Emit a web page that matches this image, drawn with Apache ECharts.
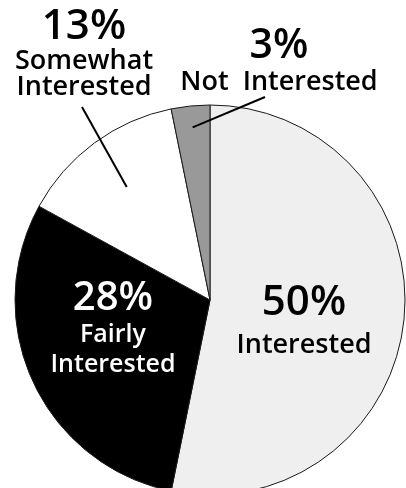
<!DOCTYPE html>
<html>
<head>
<meta charset="utf-8">
<style>
  html, body { margin: 0; padding: 0; background: #ffffff; }
  #chart { width: 406px; height: 488px; }
</style>
<script src="https://cdn.jsdelivr.net/npm/echarts@6/dist/echarts.min.js"></script>
</head>
<body>
<div id="chart"></div>
<script>
// Survey shares, clockwise from 12 o'clock
const categories = ['Interested', 'Fairly Interested', 'Somewhat Interested', 'Not Interested'];
const values = [50, 28, 13, 3];
// Words printed under each percentage, one entry per line
const labelWords = [
  ['Interested'],
  ['Fairly', 'Interested'],
  ['Somewhat', 'Interested'],
  ['Not  Interested']
];

const sliceColors = ['#efefef', '#000000', '#ffffff', '#999999'];
const textColors = ['#000000', '#ffffff', '#000000', '#000000'];

const CX = 210, CY = 300, R = 195;
const FONT = '"Open Sans", "DejaVu Sans", sans-serif';

// label block anchors (text centre) and leader-line settings
const labelAnchor = [
  { x: 304, y: 324 },
  { x: 113, y: 329 },
  { x: 84, y: 53 },
  { x: 279, y: 61 }
];
const leader = [
  null,
  null,
  { inner: 0.72, outer: [82, 107] },
  { inner: 0.89, outer: [265, 97] }
];
const numberSize = [42, 40, 42, 41];
const wordStyle = [
  { fontSize: 27, letterSpacing: 1.5, lineHeight: 42 },
  { fontSize: 25, letterSpacing: 1.2, lineHeight: 30 },
  { fontSize: 27, letterSpacing: -0.3, lineHeight: 26 },
  { fontSize: 27, letterSpacing: 0.4, lineHeight: 30 }
];

const total = values.reduce((a, b) => a + b, 0);
function midAngle(i) {
  let before = 0;
  for (let k = 0; k < i; k++) before += values[k];
  return (before + values[i] / 2) / total * Math.PI * 2;
}
function polar(angle, r) {
  return [CX + r * Math.sin(angle), CY - r * Math.cos(angle)];
}

const seriesData = categories.map((name, i) => {
  const words = labelWords[i].map(w => '{w|' + w + '}').join('\n');
  const ws = wordStyle[i];
  return {
    name: name,
    value: values[i],
    itemStyle: { color: sliceColors[i] },
    label: {
      position: 'inside',
      formatter: '{n|{c}%}\n' + words,
      rich: {
        n: { fontFamily: FONT, fontSize: numberSize[i], fontWeight: 600, lineHeight: 42, color: textColors[i], align: 'center' },
        w: { fontFamily: FONT, fontSize: ws.fontSize, fontWeight: 600, letterSpacing: ws.letterSpacing,
             lineHeight: ws.lineHeight, color: textColors[i], align: 'center' }
      }
    }
  };
});

// leader lines from inside the small slices out towards their labels
const leaderGraphics = [];
leader.forEach((l, i) => {
  if (!l) return;
  const p = polar(midAngle(i), R * l.inner);
  leaderGraphics.push({
    type: 'line',
    silent: true,
    z: 10,
    shape: { x1: p[0], y1: p[1], x2: l.outer[0], y2: l.outer[1] },
    style: { stroke: '#000', lineWidth: 2 }
  });
});

const chart = echarts.init(document.getElementById('chart'), null, { renderer: 'canvas' });
chart.setOption({
  animation: false,
  backgroundColor: '#ffffff',
  graphic: leaderGraphics,
  series: [{
    type: 'pie',
    center: [CX, CY],
    radius: R,
    startAngle: 90,
    clockwise: true,
    avoidLabelOverlap: false,
    silent: true,
    itemStyle: { borderColor: '#1a1a1a', borderWidth: 1 },
    label: { show: true, color: '#000' },
    labelLine: { show: false },
    labelLayout: function (params) {
      const a = labelAnchor[params.dataIndex];
      return { x: a.x, y: a.y, align: 'center', verticalAlign: 'middle' };
    },
    data: seriesData
  }]
});
</script>
</body>
</html>
